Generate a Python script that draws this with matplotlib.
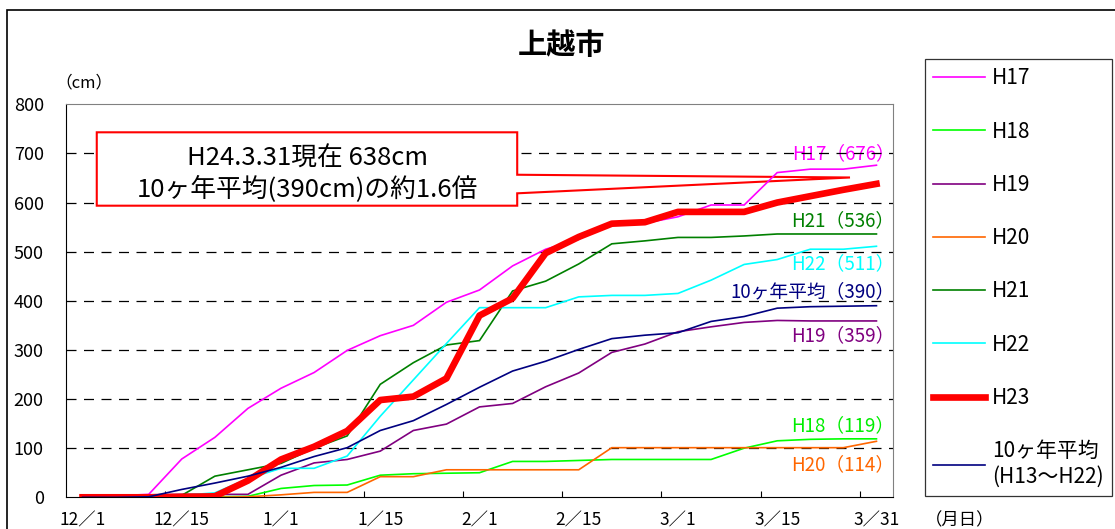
import matplotlib
matplotlib.use("Agg")
import matplotlib.pyplot as plt
from matplotlib.patches import Polygon, Rectangle

plt.rcParams['font.family'] = ['Noto Sans CJK JP', 'DejaVu Sans']

# 5-day steps from 12/1 to 3/31
n_points = 25
tick_labels = ["12／1", "12／15", "1／1", "1／15", "2／1", "2／15", "3／1", "3／15", "3／31"]
label_idx = [0, 3, 6, 9, 12, 15, 18, 21, 24]

h17 = [0, 3, 6, 78, 122, 181, 222, 254, 299, 329, 350, 397, 422, 471, 505, 525, 558, 558, 571, 595, 595, 661, 668, 668, 676]
h18 = [0, 0, 0, 0, 1, 2, 18, 24, 25, 45, 48, 49, 50, 73, 73, 75, 77, 77, 77, 77, 100, 115, 118, 119, 119]
h19 = [0, 3, 5, 6, 6, 6, 45, 70, 77, 94, 136, 149, 184, 191, 225, 253, 295, 312, 337, 347, 356, 360, 359, 359, 359]
h20 = [0, 0, 0, 0, 0, 1, 5, 10, 10, 42, 42, 56, 56, 56, 56, 56, 101, 101, 101, 101, 101, 101, 101, 101, 114]
h21 = [0, 0, 2, 4, 43, 56, 69, 100, 125, 230, 274, 310, 319, 420, 440, 475, 516, 522, 529, 529, 532, 536, 536, 536, 536]
h22 = [0, 0, 2, 4, 9, 38, 59, 59, 84, 165, 239, 313, 386, 386, 386, 408, 411, 411, 415, 442, 474, 484, 505, 505, 511]
h23 = [0, 0, 0, 1, 2, 34, 77, 103, 135, 198, 205, 242, 370, 405, 497, 530, 557, 560, 581, 581, 581, 600, 613, 626, 638]
avg10 = [0, 0, 1, 16, 29, 43, 61, 83, 101, 136, 156, 189, 224, 257, 277, 301, 323, 330, 335, 358, 368, 385, 388, 389, 390]

series = [
    ("H17", h17, "#FF00FF", 1.2),
    ("H18", h18, "#00FF00", 1.2),
    ("H19", h19, "#800080", 1.2),
    ("H20", h20, "#FF6600", 1.2),
    ("H21", h21, "#008000", 1.2),
    ("H22", h22, "#00FFFF", 1.2),
    ("H23", h23, "#FF0000", 4.8),
    ("10ヶ年平均\n(H13～H22)", avg10, "#000080", 1.2),
]

end_labels = [
    ("H17（676）", 699, "#FF00FF"),
    ("H21（536）", 564, "#008000"),
    ("H22（511）", 475, "#00FFFF"),
    ("10ヶ年平均（390）", 418, "#000080"),
    ("H19（359）", 328, "#800080"),
    ("H18（119）", 145, "#00EE00"),
    ("H20（114）", 66, "#FF6600"),
]

W, H = 1115, 529
fig = plt.figure(figsize=(W / 100, H / 100), dpi=100)
ax = fig.add_axes([66 / W, 1 - 497.3 / H, (893 - 66) / W, (497.3 - 104.3) / H])

x = list(range(n_points))
handles = []
for name, vals, col, lw in series:
    ln, = ax.plot(x, vals, color=col, lw=lw, label=name, zorder=3,
                  solid_joinstyle='miter' if lw < 2 else 'round')
    handles.append(ln)

ax.set_xlim(-0.5, n_points - 0.5)
ax.set_ylim(0, 800)
ax.set_yticks(range(0, 801, 100))
ax.tick_params(axis='y', length=0, pad=16, labelsize=13)
for v in range(100, 800, 100):
    ax.axhline(v, color='black', lw=0.9, dashes=(8, 6), zorder=2)

# ticks between the label groups, labels on the data points
ax.set_xticks([i + 2.5 for i in range(0, 24, 3)])
ax.set_xticklabels([])
ax.tick_params(axis='x', which='major', direction='in', length=4, color='black')
ax.set_xticks(label_idx, minor=True)
ax.set_xticklabels(tick_labels, minor=True)
ax.tick_params(axis='x', which='minor', length=0, pad=10, labelsize=12.5)

for s in ['top', 'right']:
    ax.spines[s].set_color('#808080')
for s in ['left', 'bottom']:
    ax.spines[s].set_color('black')

# callout box
box = Polygon([(0.43, 743), (13.14, 743), (13.14, 656.6), (23.2, 651),
               (13.14, 618.8), (13.14, 593.6), (0.43, 593.6)],
              closed=True, facecolor='white', edgecolor='#FF0000', lw=1.5, zorder=2.5)
ax.add_patch(box)
ax.text(6.79, 690, "H24.3.31現在 638cm", ha='center', va='center', fontsize=18.5, zorder=4)
ax.text(6.79, 628, "10ヶ年平均(390cm)の約1.6倍", ha='center', va='center', fontsize=18.5, zorder=4)

for txt, yv, col in end_labels:
    ax.text(24.55, yv, txt, color=col, ha='right', va='center', fontsize=13.5, zorder=1,
            clip_on=False)

leg = ax.legend(handles=handles, loc='upper left', bbox_to_anchor=(925 / W, 1 - 59 / H),
                bbox_transform=fig.transFigure, borderaxespad=0, frameon=True, fancybox=False,
                edgecolor='black', fontsize=15, labelspacing=1.5, handlelength=2.5,
                handletextpad=0.3, borderpad=0.4)
leg.get_frame().set_linewidth(0.9)

fig.text(561 / W, 1 - 45 / H, "上越市", ha='center', va='center', fontsize=21, fontweight='bold')
fig.text(84 / W, 1 - 83 / H, "（cm）", ha='center', va='center', fontsize=12)
fig.text(960 / W, 1 - 520 / H, "（月日）", ha='center', va='center', fontsize=12.5)

fig.patches.append(Rectangle((7 / W, -0.1), 1.2, 1.1 - 10 / H, transform=fig.transFigure,
                             fill=False, edgecolor='black', lw=1.2, figure=fig))

fig.savefig("out.png", dpi=100)
